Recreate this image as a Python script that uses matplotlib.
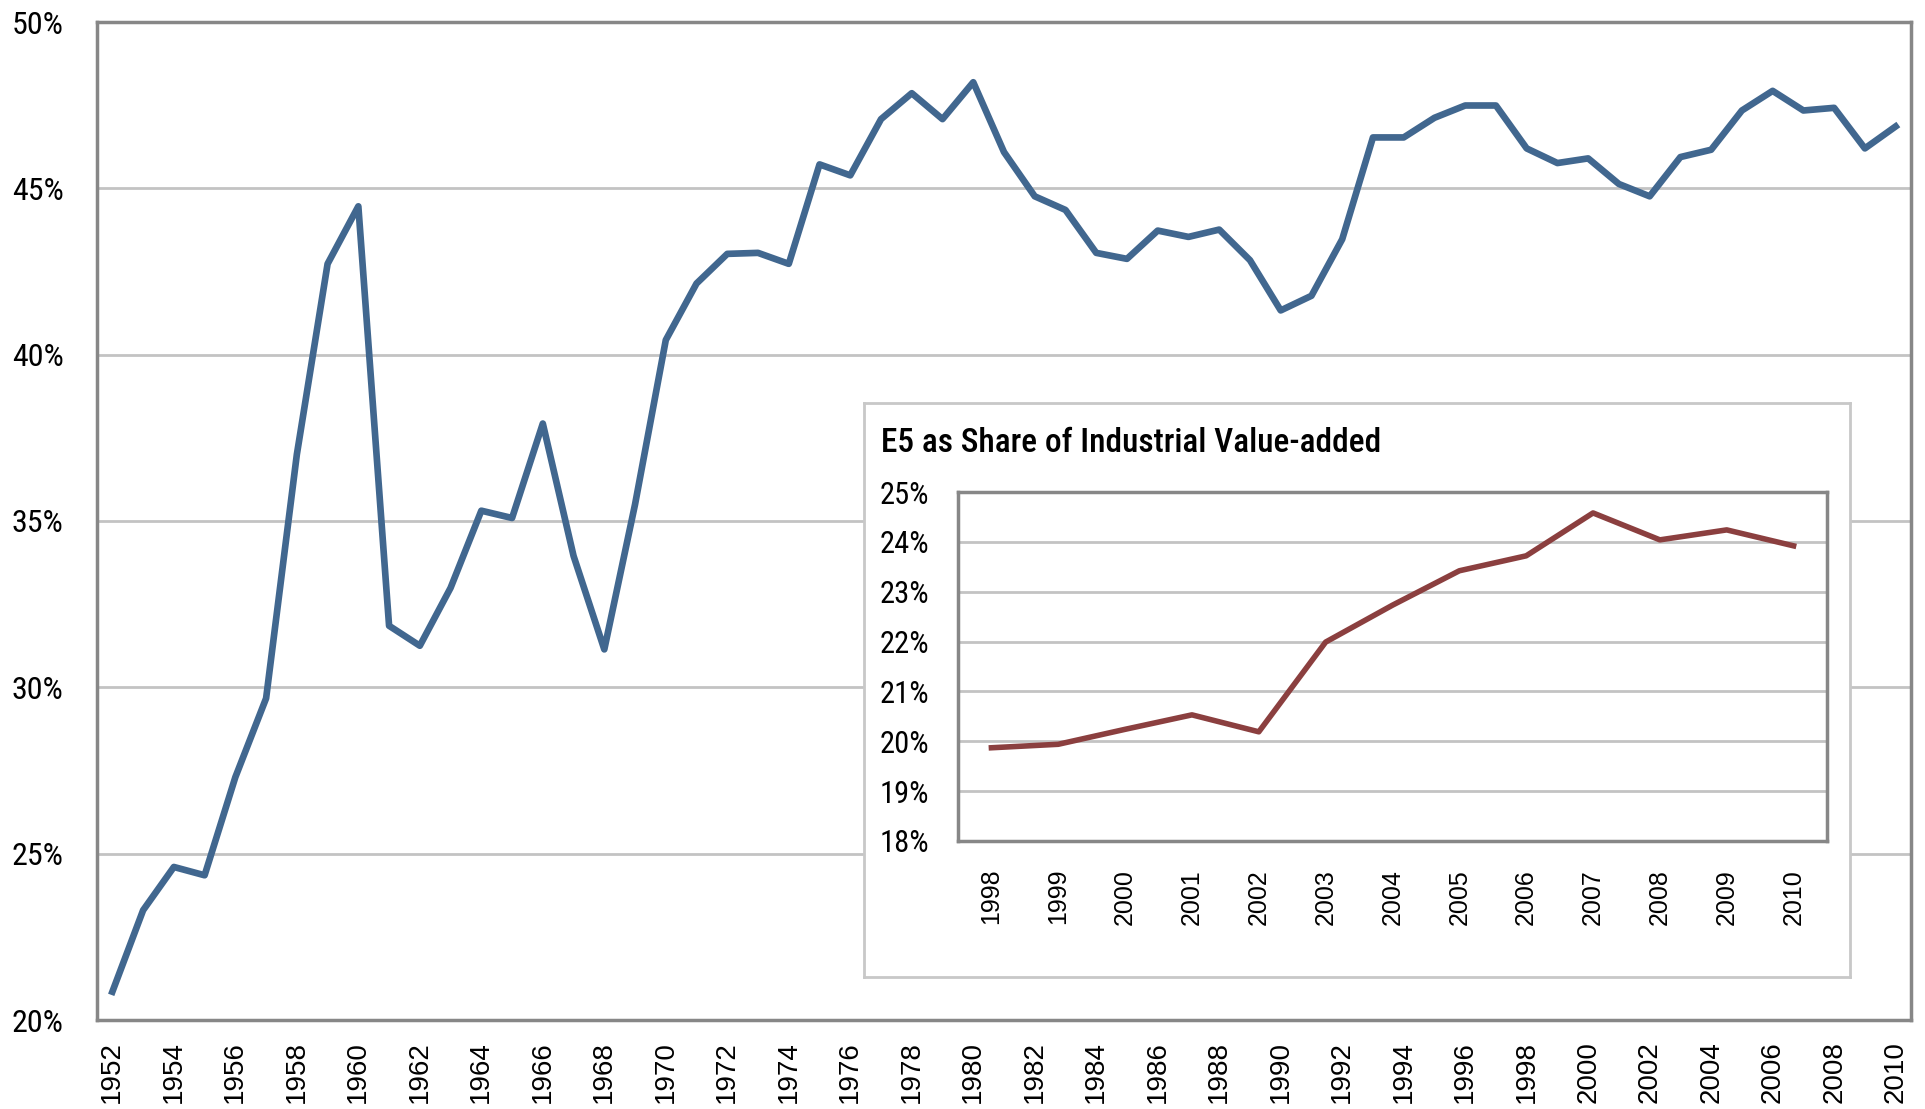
import matplotlib
matplotlib.use("Agg")
import matplotlib.pyplot as plt
from matplotlib.ticker import FuncFormatter, MultipleLocator

# main series: share (%) by year
years = list(range(1952, 2011))
share = [
    20.85, 23.3, 24.6, 24.35, 27.3, 29.67, 37.0, 42.73, 44.46, 31.85,
    31.25, 32.99, 35.31, 35.09, 37.93, 33.95, 31.14, 35.5, 40.44, 42.14,
    43.03, 43.06, 42.73, 45.72, 45.39, 47.08, 47.86, 47.08, 48.19, 46.09,
    44.76, 44.35, 43.06, 42.88, 43.73, 43.54, 43.76, 42.84, 41.33, 41.77,
    43.47, 46.53, 46.53, 47.12, 47.49, 47.49, 46.2, 45.76, 45.9, 45.13,
    44.76, 45.94, 46.16, 47.34, 47.93, 47.34, 47.42, 46.2, 46.86,
]

# inset series: E5 share of industrial value-added (%)
inset_years = list(range(1998, 2011))
inset_share = [19.87, 19.94, 20.24, 20.53, 20.19, 21.99, 22.73, 23.42, 23.72, 24.58, 24.04, 24.24, 23.92]
inset_title = "E5 as Share of Industrial Value-added"

BLUE = "#41678f"
RED = "#8b3f3f"
SPINE = "#878787"
GRID = "#c3c3c3"
NARROW = ["Roboto Condensed", "Liberation Sans Narrow", "Liberation Sans", "DejaVu Sans"]
ARIAL = ["Liberation Sans", "DejaVu Sans"]

W, H = 1925, 1109
fig = plt.figure(figsize=(W / 100, H / 100), dpi=100)


def px_box(x0, y0, x1, y1):
    # pixel box (top-left origin) -> figure fraction rect
    return [x0 / W, 1 - y1 / H, (x1 - x0) / W, (y1 - y0) / H]


def pct(v, pos):
    return f"{v:.0f}%"


def style_axes(ax, lw):
    for s in ax.spines.values():
        s.set_color(SPINE)
        s.set_linewidth(lw)
    ax.grid(axis="y", color=GRID, lw=2)
    ax.set_axisbelow(True)
    ax.tick_params(length=0)


# main chart
ax = fig.add_axes(px_box(97, 22, 1911, 1020))
ax.plot(years, share, color=BLUE, lw=4.8)
ax.set_xlim(1951.5, 2010.5)
ax.set_ylim(20, 50)
ax.yaxis.set_major_locator(MultipleLocator(5))
ax.yaxis.set_major_formatter(FuncFormatter(pct))
ax.set_xticks(years[::2])
style_axes(ax, 2.5)
ax.tick_params(axis="y", pad=24, labelsize=23)
ax.tick_params(axis="x", pad=15, labelsize=20, labelrotation=90)
for t in ax.get_yticklabels():
    t.set_family(NARROW)
for t in ax.get_xticklabels():
    t.set_family(ARIAL)
    t.set_va("top")

# inset frame (opaque white box over the main grid)
frame = fig.add_axes(px_box(864, 403, 1850, 977), zorder=3)
frame.set_xticks([])
frame.set_yticks([])
for s in frame.spines.values():
    s.set_color("#c8c8c8")
    s.set_linewidth(2)
fig.text(881 / W, 1 - 443 / H, inset_title, fontsize=24, family=NARROW,
         weight="medium", va="center", ha="left", zorder=5)

# inset chart
ins = fig.add_axes(px_box(958, 492, 1827, 841), zorder=4)
ins.plot(inset_years, inset_share, color=RED, lw=4)
ins.set_xlim(1997.5, 2010.5)
ins.set_ylim(18, 25)
ins.yaxis.set_major_locator(MultipleLocator(1))
ins.yaxis.set_major_formatter(FuncFormatter(pct))
ins.set_xticks(inset_years)
style_axes(ins, 2.5)
ins.tick_params(axis="y", pad=21, labelsize=22)
ins.tick_params(axis="x", pad=20, labelsize=18, labelrotation=90)
for t in ins.get_yticklabels():
    t.set_family(NARROW)
for t in ins.get_xticklabels():
    t.set_family(ARIAL)

fig.savefig("out.png", dpi=100)
